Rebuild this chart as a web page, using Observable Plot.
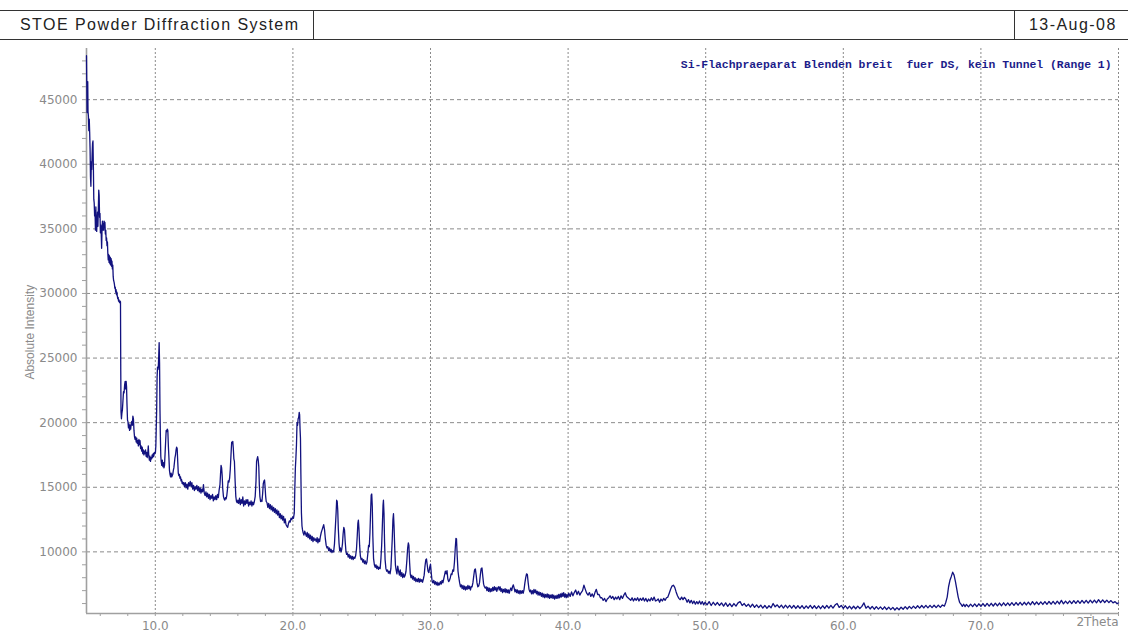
<!DOCTYPE html>
<html><head><meta charset="utf-8">
<script src="https://cdn.jsdelivr.net/npm/d3@7"></script>
<script src="https://cdn.jsdelivr.net/npm/@observablehq/plot@0.6"></script>
<style>
body{margin:0;background:#fff;width:1128px;height:636px;overflow:hidden;position:relative}
#hdr{position:absolute;left:0;top:10px;width:1128px;height:28px;border-top:1px solid #333;border-bottom:1px solid #333;font-family:"Liberation Sans",Arial,sans-serif;font-size:16px;color:#222;letter-spacing:1.45px}
#hdr .l{position:absolute;left:0;top:0;width:314px;height:28px;border-right:1px solid #333;line-height:28px;padding-left:20px;box-sizing:border-box;white-space:nowrap}
#hdr .r{position:absolute;left:1014px;top:0;width:114px;height:28px;border-left:1px solid #333;line-height:28px;padding-left:14px;box-sizing:border-box;white-space:nowrap}
#chart{position:absolute;left:0;top:40px}
</style></head><body>
<div id="hdr"><div class="l" id="ttl"></div><div class="r" id="dt"></div></div>
<div id="chart"></div>
<script>
const headerTitle = "STOE Powder Diffraction System";
const headerDate = "13-Aug-08";
const annotation = "Si-Flachpraeparat Blenden breit  fuer DS, kein Tunnel (Range 1)";
const yLabel = "Absolute Intensity";
const xEndLabel = "2Theta";
const xMajor = [10, 20, 30, 40, 50, 60, 70];
const xGrid = [10, 20, 30, 40, 50, 60, 70, 80];
const yMajor = [10000, 15000, 20000, 25000, 30000, 35000, 40000, 45000];
const xDomain = [5, 80];
const yDomain = [5230, 48960];

// [2Theta, counts]
const segLow = [[5.00,48400],[5.02,46200],[5.04,44000],[5.06,44600],[5.09,46400],[5.11,44100],[5.14,43700],[5.17,42600],[5.20,43500],[5.23,42500],[5.26,41200],[5.29,39000],[5.32,38300],[5.35,40200],[5.38,39600],[5.41,40800],[5.44,41600],[5.47,41800],[5.50,39800],[5.53,37300],[5.56,37000],[5.59,36000],[5.62,36400],[5.65,34900],[5.68,36700],[5.71,35300],[5.74,34800],[5.77,35600],[5.80,36300],[5.83,35200],[5.86,36500],[5.89,38000],[5.92,37600],[5.95,35900],[5.98,36200],[6.01,34700],[6.04,35300],[6.07,34600],[6.10,33500],[6.13,35000],[6.16,35600],[6.19,34900],[6.22,35400],[6.25,34900],[6.28,35600],[6.31,35200],[6.34,35500],[6.37,34600],[6.40,34900],[6.43,34100],[6.46,34300],[6.49,33700],[6.52,34000],[6.55,33100],[6.58,32600],[6.61,33000],[6.64,32400],[6.67,32900],[6.70,32300],[6.73,32800],[6.76,32200],[6.79,32700],[6.82,32100],[6.85,32500],[6.88,31900],[6.91,32200],[6.94,31300],[6.97,31000],[7.00,30900],[7.03,30700],[7.06,30400],[7.09,30500],[7.12,30100],[7.15,30300],[7.18,29900],[7.21,30100],[7.24,29800],[7.27,29600],[7.30,29700],[7.33,29400],[7.36,29500],[7.40,29300],[7.44,29400],[7.47,29350],[7.49,24000],[7.51,20800]];

const segMid = [[7.54,20300],[7.57,20700],[7.61,21000],[7.65,21700],[7.69,22400],[7.73,22300],[7.77,22900],[7.81,23200],[7.85,22600],[7.88,23200],[7.91,22800],[7.94,21500],[7.98,20200],[8.01,20100],[8.05,19600],[8.09,19900],[8.13,19400],[8.17,19800],[8.21,19500],[8.25,19900],[8.29,20100],[8.33,19800],[8.37,20500],[8.41,20300],[8.45,19400],[8.49,18900],[8.53,18700],[8.57,18900],[8.61,18500],[8.65,18800],[8.69,18400],[8.73,18600],[8.77,18200],[8.81,18700],[8.85,18300],[8.89,18600],[8.93,18000],[8.97,18200],[9.01,17800],[9.05,18100],[9.09,17600],[9.13,17900],[9.17,17500],[9.21,17800],[9.25,17600],[9.29,17900],[9.33,17400],[9.37,17700],[9.41,17300],[9.45,17600],[9.49,18200],[9.53,17400],[9.57,17100],[9.61,17400],[9.65,17000],[9.69,17300],[9.73,17200],[9.77,17500],[9.81,17300],[9.85,17600],[9.89,17400],[9.93,17700],[9.97,17600],[10.01,17700],[10.04,18200],[10.07,19600],[10.10,21000],[10.13,23500],[10.16,24300],[10.19,24100],[10.22,24300],[10.25,25200],[10.28,26200],[10.31,24600],[10.34,21000],[10.37,18900],[10.40,17400],[10.43,17000],[10.47,16700],[10.51,17100],[10.55,16600],[10.59,16900],[10.63,16500],[10.67,16700],[10.71,17600],[10.75,18500],[10.79,19400],[10.83,19300],[10.87,19500],[10.91,19400],[10.95,18200],[10.99,17300],[11.03,16300],[11.07,16000],[11.11,15800],[11.15,16100],[11.19,15800],[11.23,15900],[11.27,16000],[11.31,16300],[11.35,16500],[11.39,16900],[11.43,17300],[11.47,17500],[11.51,17900],[11.55,18100],[11.59,18000],[11.63,17000],[11.67,16100],[11.71,15900],[11.75,16000],[11.79,15700],[11.83,15800],[11.87,15500],[11.91,15600],[11.95,15300],[11.99,15400],[12.03,15200],[12.07,15350],[12.12,15050],[12.18,15350],[12.24,14950],[12.30,15250],[12.36,14850],[12.42,15350],[12.48,15100],[12.54,15450],[12.60,15050],[12.66,15350],[12.72,14850],[12.78,15150],[12.84,14750],[12.90,15050],[12.96,14850],[13.02,15150],[13.08,14750],[13.14,15050],[13.20,14650],[13.26,14950],[13.32,14550],[13.38,14850],[13.44,14650],[13.50,15200],[13.56,14550],[13.62,14350],[13.68,14650],[13.74,14250],[13.80,14550],[13.86,14150],[13.92,14450],[13.98,14050],[14.04,14350],[14.10,14150],[14.16,14450],[14.22,13950],[14.28,14250],[14.34,14050],[14.40,14350],[14.46,14050],[14.52,14450],[14.58,14200],[14.64,14800],[14.70,15200],[14.74,16000],[14.78,16700],[14.82,16500],[14.86,15900],[14.90,14900],[14.95,14300],[15.00,14100],[15.05,14000],[15.10,14200],[15.15,14100],[15.20,14400],[15.25,14900],[15.30,15500],[15.35,15400],[15.40,15700],[15.45,16400],[15.50,17500],[15.55,18500],[15.59,18400],[15.63,18550],[15.67,18000],[15.71,17200],[15.75,17000],[15.80,15500],[15.85,14300],[15.90,13900],[15.95,13800],[16.00,14000],[16.06,13750],[16.12,14150],[16.18,13650],[16.24,14050],[16.30,13750],[16.36,14250],[16.42,13550],[16.48,13950],[16.54,13650],[16.60,14050],[16.66,13750],[16.72,14050],[16.78,13550],[16.84,13850],[16.90,13650],[16.96,13950],[17.02,13550],[17.08,13850],[17.14,13650],[17.20,13900],[17.26,14300],[17.32,15500],[17.36,17000],[17.40,17200],[17.44,17370],[17.48,17100],[17.52,16600],[17.56,15200],[17.60,14300],[17.65,13900],[17.70,14000],[17.75,13900],[17.80,14500],[17.85,15300],[17.90,15500],[17.94,15560],[17.98,15000],[18.02,14300],[18.06,13900],[18.12,13800],[18.18,13450],[18.24,13750],[18.30,13350],[18.36,13650],[18.42,13250],[18.48,13550],[18.54,13150],[18.60,13450],[18.66,13050],[18.72,13350],[18.78,12950],[18.84,13250],[18.90,12850],[18.96,13150],[19.02,12650],[19.08,12950],[19.14,12550],[19.20,12850],[19.26,12450],[19.32,12750],[19.38,12250],[19.44,12550],[19.50,12100],[19.56,12000],[19.62,11900],[19.68,12200],[19.74,12400],[19.80,12300],[19.86,12600],[19.92,12500],[19.98,12700],[20.04,12600],[20.10,13000],[20.14,14900],[20.18,16500],[20.22,17300],[20.26,18300],[20.30,20000],[20.34,19800],[20.38,20300],[20.42,20400],[20.46,20800],[20.49,20600],[20.52,19500],[20.55,18800],[20.58,16000],[20.62,13000],[20.66,12000],[20.70,11700]];

const segHigh = [[20.74,11500],[20.80,11300],[20.86,11600],[20.92,11400],[20.98,11200],[21.04,11500],[21.10,11100],[21.16,11400],[21.22,11000],[21.28,11300],[21.34,10900],[21.40,11200],[21.46,10800],[21.52,11100],[21.58,10900],[21.64,11000],[21.70,10800],[21.76,11100],[21.82,10700],[21.88,11000],[21.94,10800],[22.00,11200],[22.06,11500],[22.12,11700],[22.18,11900],[22.24,12100],[22.30,11700],[22.36,11000],[22.42,10500],[22.48,10300],[22.54,10400],[22.60,10100],[22.66,10300],[22.72,10000],[22.78,10200],[22.84,9950],[22.90,10100],[22.96,10000],[23.02,10600],[23.08,11800],[23.14,13000],[23.18,14000],[23.22,13900],[23.26,13200],[23.30,11800],[23.35,10700],[23.40,10100],[23.45,10300],[23.50,10000],[23.55,10200],[23.60,10600],[23.65,11400],[23.70,11900],[23.75,11700],[23.80,10800],[23.85,10100],[23.90,9800],[23.96,9900],[24.02,9600],[24.08,9800],[24.14,9500],[24.20,9700],[24.26,9450],[24.32,9650],[24.38,9400],[24.44,9600],[24.50,9500],[24.56,9700],[24.62,10200],[24.68,11300],[24.72,12200],[24.76,12450],[24.80,11800],[24.85,10500],[24.90,9700],[24.96,9400],[25.02,9500],[25.08,9200],[25.14,9400],[25.20,9100],[25.26,9300],[25.32,9050],[25.38,9200],[25.44,9800],[25.50,10500],[25.55,10400],[25.60,11500],[25.65,13200],[25.69,14400],[25.73,14480],[25.77,13500],[25.81,11200],[25.86,9500],[25.92,9000],[25.98,8800],[26.04,9000],[26.10,8700],[26.16,8900],[26.22,8650],[26.28,8800],[26.34,8700],[26.40,9500],[26.45,10500],[26.50,12000],[26.55,13600],[26.58,14000],[26.62,13000],[26.66,10800],[26.70,9400],[26.76,8700],[26.82,8500],[26.88,8600],[26.94,8350],[27.00,8500],[27.06,8300],[27.12,8700],[27.17,9800],[27.22,11000],[27.27,12500],[27.31,12950],[27.35,12000],[27.40,10300],[27.45,9000],[27.50,8600],[27.56,8300],[27.62,8900],[27.68,8500],[27.74,8200],[27.80,8600],[27.86,8100],[27.92,8400],[27.98,8000],[28.04,8300],[28.10,8050],[28.16,8200],[28.22,8500],[28.28,9300],[28.34,10300],[28.39,10700],[28.43,10500],[28.48,9200],[28.53,8300],[28.58,8000],[28.64,8200],[28.70,7900],[28.76,8100],[28.82,7800],[28.88,8000],[28.94,7700],[29.00,7900],[29.06,7700],[29.12,7950],[29.18,7650],[29.24,7900],[29.30,7700],[29.36,7850],[29.42,7650],[29.48,7900],[29.54,8200],[29.60,8900],[29.66,9400],[29.71,9450],[29.76,9000],[29.82,8500],[29.88,8400],[29.94,8800],[30.00,9050],[30.06,8300],[30.12,7700],[30.18,7600],[30.24,7800],[30.30,7500],[30.36,7700],[30.42,7450],[30.48,7650],[30.54,7400],[30.60,7600],[30.66,7450],[30.72,7700],[30.78,7500],[30.84,7800],[30.90,7600],[30.96,7900],[31.02,8200],[31.08,8500],[31.14,8300],[31.20,8550],[31.26,7900],[31.32,7700],[31.38,7800],[31.44,8000],[31.50,8300],[31.56,8250],[31.62,8600],[31.68,8500],[31.74,9200],[31.80,10300],[31.85,11050],[31.89,11000],[31.94,9700],[32.00,8500],[32.06,8000],[32.12,7600],[32.18,7300],[32.24,7450],[32.30,7150],[32.36,7400],[32.42,7100],[32.48,7350],[32.54,7050],[32.60,7300],[32.66,7100],[32.72,7400],[32.78,7150],[32.84,7350],[32.90,7050],[32.96,7300],[33.02,7300],[33.08,7600],[33.14,8100],[33.20,8600],[33.26,8680],[33.32,8200],[33.38,7600],[33.44,7300],[33.50,7350],[33.56,7600],[33.62,8200],[33.68,8700],[33.74,8760],[33.80,8100],[33.86,7500],[33.92,7300],[33.98,7200],[34.04,7300],[34.10,7000],[34.16,7250],[34.22,6950],[34.28,7200],[34.34,6900],[34.40,7150],[34.46,6950],[34.52,7250],[34.58,7000],[34.64,7300],[34.70,7050],[34.76,7250],[34.82,6950],[34.88,7200],[34.94,7300],[35.00,7050],[35.06,7300],[35.12,6950],[35.18,7150],[35.24,6850],[35.30,7100],[35.36,6900],[35.42,7150],[35.48,6850],[35.54,7100],[35.60,6850],[35.66,7050],[35.72,6800],[35.78,7050],[35.84,7200],[35.90,7000],[35.96,7300],[36.02,7450],[36.08,7200],[36.14,6900],[36.20,7100],[36.26,6850],[36.32,7050],[36.38,6800],[36.44,7000],[36.50,6750],[36.56,7000],[36.62,6800],[36.68,7000],[36.74,6800],[36.80,7100],[36.86,7600],[36.92,8000],[36.98,8300],[37.04,8250],[37.10,7600],[37.16,7100],[37.22,6900],[37.28,7050],[37.34,6750],[37.40,7000],[37.46,6750],[37.52,7100],[37.58,6850],[37.64,7050],[37.70,6750],[37.76,6950],[37.82,6650],[37.88,6900],[37.94,6650],[38.00,6850],[38.06,6550],[38.12,6800],[38.18,6500],[38.24,6750],[38.30,6450],[38.36,6700],[38.42,6500],[38.48,6750],[38.54,6450],[38.60,6700],[38.66,6400],[38.72,6650],[38.78,6450],[38.84,6700],[38.90,6400],[38.96,6650],[39.02,6350],[39.08,6600],[39.14,6400],[39.20,6650],[39.26,6400],[39.32,6700],[39.38,6450],[39.44,6750],[39.50,6500],[39.56,6800],[39.62,6550],[39.68,6850],[39.74,6500],[39.80,6750],[39.86,6450],[39.92,6700],[39.98,6500]];

const segTail = [[40.05,6800],[40.15,6550],[40.25,6900],[40.35,6600],[40.45,6850],[40.55,7050],[40.65,6700],[40.75,6950],[40.85,6650],[40.95,6850],[41.05,7000],[41.15,7420],[41.25,7100],[41.35,6800],[41.45,6650],[41.55,6850],[41.65,6550],[41.75,6750],[41.85,6500],[41.95,6850],[42.05,7100],[42.15,6700],[42.25,6700],[42.35,6450],[42.45,6450],[42.55,6250],[42.65,6400],[42.75,6150],[42.85,6350],[42.95,6450],[43.05,6600],[43.15,6400],[43.25,6550],[43.35,6300],[43.45,6500],[43.55,6350],[43.65,6550],[43.75,6300],[43.85,6600],[43.95,6400],[44.05,6650],[44.15,6840],[44.25,6550],[44.35,6450],[44.45,6350],[44.55,6250],[44.65,6450],[44.75,6200],[44.85,6400],[44.95,6250],[45.05,6450],[45.15,6200],[45.25,6400],[45.35,6250],[45.45,6450],[45.55,6200],[45.65,6400],[45.75,6150],[45.85,6350],[45.95,6200],[46.05,6450],[46.15,6250],[46.25,6500],[46.35,6200],[46.45,6250],[46.55,6350],[46.65,6100],[46.75,6350],[46.85,6200],[46.95,6400],[47.05,6250],[47.15,6450],[47.25,6500],[47.35,6800],[47.45,7100],[47.55,7350],[47.65,7420],[47.75,7250],[47.85,6900],[47.95,6600],[48.05,6400],[48.15,6300],[48.25,6500],[48.35,6300],[48.45,6480],[48.55,6350],[48.65,6100],[48.75,6300],[48.85,6050],[48.95,6250],[49.05,6000],[49.15,6200],[49.25,5950],[49.35,6150],[49.45,5980],[49.55,6200],[49.65,5950],[49.75,6150],[49.85,5900],[49.95,6100],[50.10,5900],[50.25,6150],[50.40,5850],[50.55,6100],[50.70,5880],[50.85,6080],[51.00,5850],[51.15,6050],[51.30,5800],[51.45,6050],[51.60,5780],[51.75,6000],[51.90,5760],[52.05,6000],[52.20,5800],[52.35,6050],[52.50,6150],[52.65,5850],[52.80,6000],[52.95,5780],[53.10,5950],[53.25,5720],[53.40,5950],[53.55,5700],[53.70,5900],[53.85,5680],[54.00,5880],[54.15,5650],[54.30,5850],[54.45,5630],[54.60,5830],[54.75,5680],[54.90,6000],[55.05,5750],[55.20,5900],[55.35,5680],[55.50,5880],[55.65,5650],[55.80,5870],[55.95,5660],[56.10,5860],[56.25,5640],[56.40,5850],[56.55,5620],[56.70,5830],[56.85,5630],[57.00,5840],[57.15,5610],[57.30,5820],[57.45,5640],[57.60,5860],[57.75,5620],[57.90,5830],[58.05,5610],[58.20,5820],[58.35,5600],[58.50,5830],[58.65,5620],[58.80,5850],[58.95,5640],[59.10,5860],[59.25,5650],[59.40,5880],[59.55,6000],[59.70,5700],[59.85,5850],[60.00,5620],[60.15,5830],[60.30,5600],[60.45,5800],[60.60,5580],[60.75,5790],[60.90,5600],[61.05,5800],[61.20,5620],[61.35,5780],[61.50,6050],[61.65,5640],[61.80,5800],[61.95,5580],[62.10,5780],[62.25,5560],[62.40,5760],[62.55,5570],[62.70,5740],[62.85,5550],[63.00,5750],[63.15,5540],[63.30,5720],[63.45,5530],[63.60,5700],[63.75,5500],[63.90,5680],[64.05,5520],[64.20,5720],[64.35,5560],[64.50,5760],[64.65,5580],[64.80,5780],[64.95,5610],[65.10,5800],[65.25,5630],[65.40,5830],[65.55,5650],[65.70,5850],[65.85,5660],[66.00,5860],[66.15,5670],[66.30,5860],[66.45,5680],[66.60,5870],[66.75,5690],[66.90,5880],[67.05,5700],[67.20,5890],[67.35,5800],[67.45,6100],[67.55,6500],[67.65,7300],[67.75,7800],[67.85,8100],[67.95,8430],[68.05,8200],[68.15,7700],[68.25,7100],[68.35,6500],[68.45,6100],[68.55,5950],[68.65,5780],[68.75,5950],[68.85,5760],[68.95,5930],[69.10,5740],[69.25,5950],[69.40,5760],[69.55,5970],[69.70,5770],[69.85,5980],[70.00,5780],[70.15,6000],[70.30,5790],[70.45,6010],[70.60,5800],[70.75,6020],[70.90,5810],[71.05,6030],[71.20,5820],[71.35,6040],[71.50,5830],[71.65,6060],[71.80,5840],[71.95,6050],[72.10,5850],[72.25,6070],[72.40,5860],[72.55,6080],[72.70,5870],[72.85,6090],[73.00,5880],[73.15,6100],[73.30,5890],[73.45,6110],[73.60,5900],[73.75,6150],[73.90,5910],[74.05,6120],[74.20,5920],[74.35,6130],[74.50,5930],[74.65,6150],[74.80,5940],[74.95,6160],[75.10,5950],[75.25,6170],[75.40,5960],[75.55,6180],[75.70,5970],[75.85,6250],[76.00,5980],[76.15,6190],[76.30,5990],[76.45,6200],[76.60,6000],[76.75,6230],[76.90,6010],[77.05,6220],[77.20,6020],[77.35,6240],[77.50,6030],[77.65,6250],[77.80,6040],[77.95,6260],[78.10,6050],[78.25,6270],[78.40,6060],[78.55,6300],[78.70,6070],[78.85,6280],[79.00,6080],[79.15,6260],[79.30,6070],[79.45,6230],[79.60,6050],[79.75,6150],[79.90,5980],[80.00,6050]];

const pattern = [...segLow, ...segMid, ...segHigh, ...segTail];

document.getElementById("ttl").textContent = headerTitle;
document.getElementById("dt").textContent = headerDate;

const grey = "#8a8a8a";
const chart = Plot.plot({
  width: 1128,
  height: 596,
  marginLeft: 86,
  marginRight: 10,
  marginTop: 8,
  marginBottom: 23,
  style: {fontFamily: "DejaVu Sans, sans-serif", background: "#fff"},
  x: {domain: xDomain},
  y: {domain: yDomain},
  marks: [
    Plot.ruleY(yMajor, {stroke: grey, strokeWidth: 1, strokeDasharray: "4,3"}),
    Plot.ruleX(xGrid, {stroke: grey, strokeWidth: 1, strokeDasharray: "2,2"}),
    Plot.axisX({ticks: d3.range(6, 81, 2), tickSize: 3, tickFormat: () => "", color: "#a0a0a0"}),
    Plot.axisX({ticks: xMajor, tickSize: 0, tickPadding: 8, tickFormat: d => d.toFixed(1), color: grey, fontSize: 12}),
    Plot.axisY({ticks: d3.range(6000, 49000, 1000), tickSize: 4, tickFormat: () => "", color: "#a0a0a0"}),
    Plot.axisY({ticks: yMajor, tickSize: 0, tickPadding: 9, tickFormat: d => String(d), color: grey, fontSize: 12}),
    Plot.ruleX([xDomain[0]], {stroke: "#a0a0a0", strokeWidth: 1.6}),
    Plot.ruleY([yDomain[0]], {stroke: "#a0a0a0", strokeWidth: 1.6}),
    Plot.text([xEndLabel], {x: xDomain[1], frameAnchor: "bottom", dy: 12, textAnchor: "end", text: d => d, fill: grey, fontSize: 12}),
    Plot.text([yLabel], {x: xDomain[0], y: 27000, dx: -56, rotate: -90, text: d => d, fill: grey, fontSize: 12, fontFamily: "Liberation Sans, sans-serif"}),
    Plot.text([annotation], {frameAnchor: "top-right", dx: -7, dy: 11, textAnchor: "end", text: d => d, fill: "#1c1c8a", fontSize: 11.4, fontWeight: "bold", fontFamily: "Liberation Mono, monospace"}),
    Plot.line(pattern, {x: d => d[0], y: d => d[1], stroke: "#12127f", strokeWidth: 1.3})
  ]
});
document.getElementById("chart").appendChild(chart);
</script>
</body></html>
